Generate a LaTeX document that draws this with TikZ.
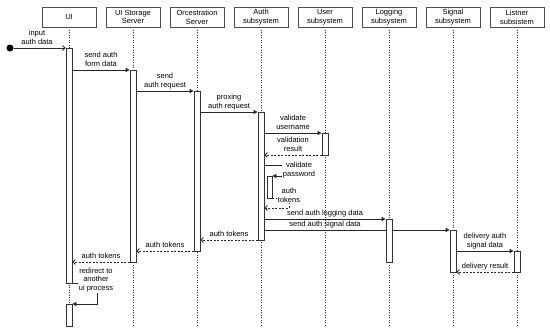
\documentclass[tikz,border=0pt]{standalone}
\usepackage{fontspec}
\setmainfont{Liberation Sans}
\usetikzlibrary{arrows.meta,fit}
\pgfdeclarelayer{back}
\pgfdeclarelayer{mid}
\pgfsetlayers{back,mid,main}
\begin{document}
\begin{tikzpicture}[x=1pt,y=-1pt,
  every node/.style={font=\fontsize{7.5}{8.8}\selectfont},
  head/.style={draw=black!70, line width=0.8pt, minimum width=54pt, minimum height=20pt, align=center, inner sep=0pt},
  life/.style={draw=black!80, line width=0.7pt, dash pattern=on 1pt off 1.5pt},
  bar/.style={draw=black!80, fill=white, line width=0.8pt, inner sep=0pt},
  msg/.style={draw=black!85, line width=0.8pt, -{Triangle[length=4pt,width=4pt]}},
  msgo/.style={draw=black!85, line width=0.8pt, -{Straight Barb[length=2.5pt,width=5pt]}},
  ret/.style={draw=black!85, line width=0.8pt, dash pattern=on 2pt off 1.5pt, -{Straight Barb[length=2.5pt,width=5pt]}},
  lab/.style={align=center, anchor=south, inner sep=0pt, text depth=0pt},
  blab/.style={align=center, fill=white, inner sep=0.5pt},
]
\useasboundingbox (0,0) rectangle (550,332);
% headers
\node[head] (hUI) at (69,17) {UI};
\node[head] (hUIS) at (133,17) {UI Storage\\Server};
\node[head] (hOrc) at (197,17) {Orcestration\\Server};
\node[head] (hAuth) at (261,17) {Auth\\subsystem};
\node[head] (hUser) at (325,17) {User\\subsystem};
\node[head] (hLog) at (389,17) {Logging\\subsystem};
\node[head] (hSig) at (453,17) {Signal\\subsystem};
\node[head] (hLis) at (517,17) {Listner\\subsistem};
% lifeline ends
\coordinate (eUI) at (69,326);
\coordinate (eUIS) at (133,326);
\coordinate (eOrc) at (197,326);
\coordinate (eAuth) at (261,326);
\coordinate (eUser) at (325,326);
\coordinate (eLog) at (389,326);
\coordinate (eSig) at (453,326);
\coordinate (eLis) at (517,326);
\begin{pgfonlayer}{back}
\draw[life] (hUI.south) -- (eUI);
\draw[life] (hUIS.south) -- (eUIS);
\draw[life] (hOrc.south) -- (eOrc);
\draw[life] (hAuth.south) -- (eAuth);
\draw[life] (hUser.south) -- (eUser);
\draw[life] (hLog.south) -- (eLog);
\draw[life] (hSig.south) -- (eSig);
\draw[life] (hLis.south) -- (eLis);
\end{pgfonlayer}
% activation bars
\node[bar, fit={(66,48)(72,283)}] (bUI) {};
\node[bar, fit={(66,304)(72,326)}] (bUI2) {};
\node[bar, fit={(130,70)(136,262)}] (bUIS) {};
\node[bar, fit={(194,91)(200,251)}] (bOrc) {};
\node[bar, fit={(258,112)(264,240)}] (bAuth) {};
\node[bar, fit={(322,133)(328,155)}] (bUser) {};
\node[bar, fit={(267,176)(272,198)}] (bAuth2) {};
\node[bar, fit={(386,219)(392,262)}] (bLog) {};
\node[bar, fit={(450,230)(456,272)}] (bSig) {};
\node[bar, fit={(514,251)(520,272)}] (bLis) {};
% start
\node[circle, fill=black, minimum size=7pt, inner sep=0pt] (start) at (10,48) {};
\coordinate (sv1) at (299,165);
\coordinate (sv2) at (299,176);
\coordinate (st1) at (289,198);
\coordinate (st2) at (289,208);
\coordinate (rd1) at (97,283);
\coordinate (rd2) at (97,304);
\begin{pgfonlayer}{mid}
\draw[msgo] (start) -- (bUI.west |- start);
\draw[msg] (bUI.east |- 0,70) -- (bUIS.west |- 0,70);
\draw[msg] (bUIS.east |- 0,91) -- (bOrc.west |- 0,91);
\draw[msg] (bOrc.east |- 0,112) -- (bAuth.west |- 0,112);
\draw[msg] (bAuth.east |- 0,133) -- (bUser.west |- 0,133);
\draw[ret] (bUser.west |- 0,155) -- (bAuth.east |- 0,155);
\draw[msg] (bAuth.east |- sv1) -- (sv1) -- (sv2) -- (bAuth2.east |- sv2);
\draw[ret] (bAuth2.east |- st1) -- (st1) -- (st2) -- (bAuth.east |- st2);
\draw[msg] (bAuth.east |- 0,219) -- (bLog.west |- 0,219);
\draw[msg] (bAuth.east |- 0,230) -- (bSig.west |- 0,230);
\draw[ret] (bAuth.west |- 0,240) -- (bOrc.east |- 0,240);
\draw[ret] (bOrc.west |- 0,251) -- (bUIS.east |- 0,251);
\draw[ret] (bUIS.west |- 0,262) -- (bUI.east |- 0,262);
\draw[msg] (bUI.east |- rd1) -- (rd1) -- (rd2) -- (bUI2.east |- rd2);
\draw[msg] (bSig.east |- 0,251) -- (bLis.west |- 0,251);
\draw[ret] (bLis.west |- 0,272) -- (bSig.east |- 0,272);
\end{pgfonlayer}
% labels
\node[lab] (l1) at (37,44.5) {input\\auth data};
\node[lab] (l2) at (101,66.5) {send auth\\form data};
\node[lab] (l3) at (165,87.5) {send\\auth request};
\node[lab] (l4) at (229,108.5) {proxing\\auth request};
\node[lab] (l5) at (293,129.5) {validate\\username};
\node[lab] (l6) at (293,151.5) {validation\\result};
\node[blab] (l7) at (299,170) {validate\\password};
\node[blab] (l8) at (289,195.5) {auth\\tokens};
\node[lab] (l9) at (325,215.5) {send auth logging data};
\node[lab] (l10) at (325,226.5) {send auth signal data};
\node[lab] (l11) at (229,236.5) {auth tokens};
\node[lab] (l12) at (165,247.5) {auth tokens};
\node[lab] (l13) at (101,258.5) {auth tokens};
\node[blab] (l14) at (96,280) {redirect to\\another\\ui process};
\node[lab] (l15) at (485,247.5) {delivery auth\\signal data};
\node[lab] (l16) at (485,268.5) {delivery result};
\end{tikzpicture}
\end{document}
